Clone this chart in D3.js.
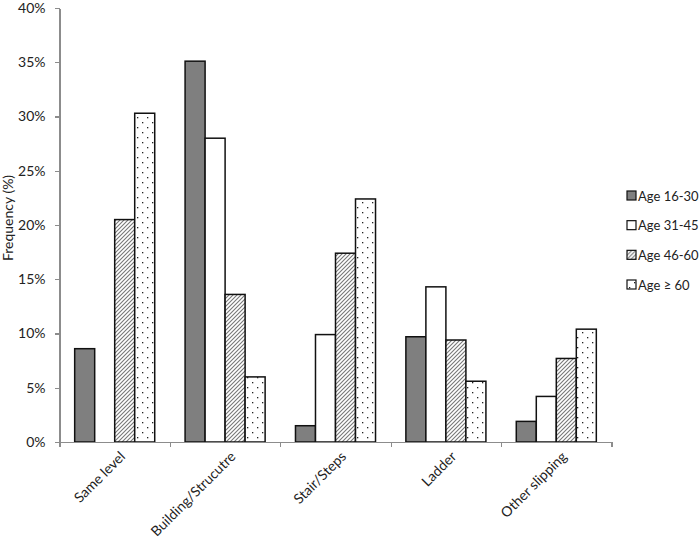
<!doctype html>
<html>
<head>
<meta charset="utf-8">
<style>
    body { margin: 0; background: #fff; }
    svg { display: block; font-family: Lato, "Open Sans", sans-serif; }
    .axis path, .axis line { stroke: #8c8c8c; stroke-width: 1.3; shape-rendering: crispEdges; }
    .axis text { fill: #222; font-size: 14px; font-family: Lato, sans-serif; }
    .bar { stroke: #111; stroke-width: 1.5; }
    .label { fill: #222; font-size: 14px; }
    .legend text { fill: #222; font-size: 13px; }
</style>
</head>
<body>
<svg id="chart"></svg>
<script src="https://cdnjs.cloudflare.com/ajax/libs/d3/7.8.5/d3.min.js"></script>
<script>
    // data
    var categories = ['Same level', 'Building/Strucutre', 'Stair/Steps', 'Ladder', 'Other slipping'];
    var seriesNames = ['Age 16-30', 'Age 31-45', 'Age 46-60', 'Age \u2265 60'];
    var age16to30 = [8.6, 35.1, 1.5, 9.7, 1.9];
    var age31to45 = [0, 28.0, 9.9, 14.3, 4.2];
    var age46to60 = [20.5, 13.6, 17.4, 9.4, 7.7];
    var age60plus = [30.3, 6.0, 22.4, 5.6, 10.4];
    var yTicks = [0, 5, 10, 15, 20, 25, 30, 35, 40];

    var series = [age16to30, age31to45, age46to60, age60plus];
    var fills = ['#7f7f7f', '#fff', 'url(#hatch)', 'url(#dots)'];

    var width = 700, height = 540;
    var plotLeft = 59.5, plotRight = 611.5, plotTop = 8, plotBottom = 442;

    var svg = d3.select('#chart').attr('width', width).attr('height', height);

    var defs = svg.append('defs');
    var hatch = defs.append('pattern')
        .attr('id', 'hatch').attr('patternUnits', 'userSpaceOnUse')
        .attr('width', 4).attr('height', 4);
    hatch.append('rect').attr('width', 4).attr('height', 4).attr('fill', '#fff');
    hatch.append('path')
        .attr('d', 'M-1,1 l2,-2 M0,4 l4,-4 M3,5 l2,-2')
        .attr('stroke', '#777').attr('stroke-width', 1.1);

    var dots = defs.append('pattern')
        .attr('id', 'dots').attr('patternUnits', 'userSpaceOnUse')
        .attr('width', 10).attr('height', 10);
    dots.append('rect').attr('width', 10).attr('height', 10).attr('fill', '#fff');
    dots.append('rect').attr('x', 2).attr('y', 2).attr('width', 1.3).attr('height', 1.3).attr('fill', '#222');
    dots.append('rect').attr('x', 7).attr('y', 7).attr('width', 1.3).attr('height', 1.3).attr('fill', '#222');

    var x0 = d3.scaleBand().domain(categories).range([plotLeft, plotRight]);
    var gap = x0.bandwidth() * 0.1375;
    var x1 = d3.scaleBand().domain(d3.range(series.length)).range([gap, x0.bandwidth() - gap]);
    var y = d3.scaleLinear().domain([0, 40]).range([plotBottom, plotTop]);
    var edges = d3.scaleLinear().domain([0, categories.length]).range([plotLeft, plotRight]);

    // bars
    series.forEach(function(vals, s) {
        svg.append('g').selectAll('rect')
            .data(vals.map(function(v, i) { return { cat: categories[i], v: v }; }).filter(function(d) { return d.v > 0; }))
            .enter().append('rect')
            .attr('class', 'bar')
            .attr('x', function(d) { return x0(d.cat) + x1(s); })
            .attr('width', x1.bandwidth())
            .attr('y', function(d) { return y(d.v); })
            .attr('height', function(d) { return y(0) - y(d.v); })
            .attr('fill', fills[s]);
    });

    // y axis
    svg.append('g').attr('class', 'axis')
        .attr('transform', 'translate(' + plotLeft + ',0)')
        .call(d3.axisLeft(y).tickValues(yTicks).tickFormat(function(d) { return d + '%'; })
            .tickSize(5).tickSizeOuter(0).tickPadding(9));

    // x axis with ticks on category edges
    svg.append('g').attr('class', 'axis')
        .attr('transform', 'translate(0,' + plotBottom + ')')
        .call(d3.axisBottom(edges).ticks(categories.length).tickFormat('').tickSize(5).tickSizeOuter(0));

    svg.append('g').selectAll('text')
        .data(categories)
        .enter().append('text')
        .attr('class', 'label')
        .attr('text-anchor', 'end')
        .attr('transform', function(d) {
            return 'translate(' + (x0(d) + x0.bandwidth() / 2 + 8) + ',' + (plotBottom + 12) + ') rotate(-45)';
        })
        .attr('dy', '0.35em')
        .text(function(d) { return d; });

    svg.append('text')
        .attr('class', 'label')
        .attr('text-anchor', 'middle')
        .attr('transform', 'translate(13,218) rotate(-90)')
        .text('Frequency (%)');

    // legend
    var legY = d3.scalePoint().domain(seriesNames).range([196, 285]);
    var leg = svg.append('g').attr('class', 'legend').selectAll('g')
        .data(seriesNames)
        .enter().append('g')
        .attr('transform', function(d) { return 'translate(627,' + legY(d) + ')'; });
    leg.append('rect')
        .attr('x', 0).attr('y', -5).attr('width', 9).attr('height', 9)
        .attr('fill', function(d, i) { return fills[i]; })
        .attr('stroke', '#111').attr('stroke-width', 1.2);
    leg.append('text')
        .attr('x', 11).attr('dy', '0.35em')
        .text(function(d) { return d; });
</script>
</body>
</html>
